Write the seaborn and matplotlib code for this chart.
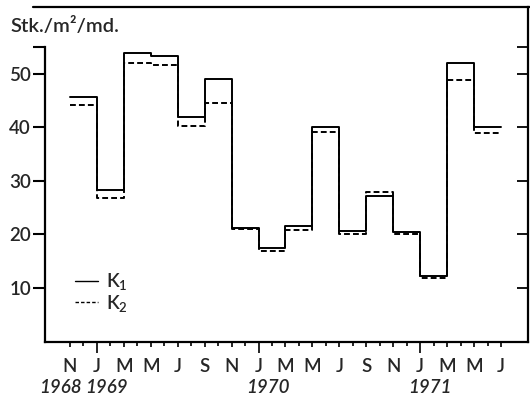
import matplotlib
matplotlib.use("Agg")
import matplotlib.pyplot as plt
import matplotlib.lines as mlines
import seaborn as sns
import pandas as pd
import numpy as np

# ---- data ----
# segment boundaries in months since Nov 1968 (2-month periods)
period_start = [0, 2, 4, 6, 8, 10, 12, 14, 16, 18, 20, 22, 24, 26, 28, 30]
period_end = 32
k1 = [45.6, 28.3, 53.9, 53.4, 42.0, 49.1, 21.2, 17.4, 21.5, 40.0, 20.7, 27.1, 20.5, 12.2, 52.0, 40.1]
k2 = [44.1, 26.8, 52.1, 51.7, 40.3, 44.5, 21.0, 17.0, 20.8, 39.1, 20.1, 28.0, 20.0, 11.8, 48.9, 38.9]
month_ticks = [0, 2, 4, 6, 8, 10, 12, 14, 16, 18, 20, 22, 24, 26, 28, 30, 32]
month_labels = ["N", "J", "M", "M", "J", "S", "N", "J", "M", "M", "J", "S", "N", "J", "M", "M", "J"]
jan_ticks = [2, 14, 26]
year_labels = ["1968", "1969", "1970", "1971"]
yticks = [10, 20, 30, 40, 50]

sns.set_theme(style="white")
plt.rcParams["font.family"] = ["Lato", "DejaVu Sans"]
plt.rcParams["font.weight"] = "semibold"
plt.rcParams["mathtext.fontset"] = "custom"
plt.rcParams["mathtext.rm"] = "Lato:semibold"
plt.rcParams["mathtext.it"] = "Lato:italic"
FS = 13.5

xs = period_start + [period_end]
rows = []
for name, vals in (("K1", k1), ("K2", k2)):
    v = vals + [vals[-1]]
    for x, y in zip(xs, v):
        rows.append({"month": x, "value": y, "series": name})
df = pd.DataFrame(rows)

fig = plt.figure(figsize=(5.3, 3.97), dpi=100)
ax = fig.add_axes([45 / 530, 1 - 341.5 / 397, (528 - 45) / 530, (341.5 - 7) / 397])

sns.lineplot(data=df, x="month", y="value", style="series",
             dashes={"K1": "", "K2": (3, 1.6)}, color="black",
             drawstyle="steps-post", linewidth=1.4, ax=ax, legend=False,
             estimator=None, sort=False)

ax.set_xlim(-1.85, 34.0)
ax.set_ylim(0, 62.5)
ax.set_xlabel("")
ax.set_ylabel("")

for s in ["left", "bottom", "right"]:
    ax.spines[s].set_color("black")
    ax.spines[s].set_linewidth(1.6)
ax.spines["top"].set_visible(False)
ax.spines["left"].set_bounds(0, 55)

# y ticks left (outward) and right (inward)
ax.set_yticks(yticks + [55])
ax.set_yticklabels([str(t) for t in yticks] + [""], fontsize=FS)
ax.tick_params(axis="y", which="major", direction="out", length=8.5, width=1.5,
               color="black", pad=1.5, left=True, right=False)
ax2 = ax.twinx()
ax2.set_ylim(ax.get_ylim())
ax2.set_yticks(yticks + [55])
ax2.set_yticklabels([])
ax2.tick_params(axis="y", direction="in", length=8, width=1.3, color="black")
for s in ax2.spines.values():
    s.set_visible(False)
ax2.grid(False)

# x ticks
ax.set_xticks(month_ticks)
ax.set_xticklabels(month_labels, fontsize=FS)
ax.set_xticks([m for m in range(0, 33) if m % 2 == 1], minor=True)
ax.tick_params(axis="x", which="major", direction="out", length=3.5, width=1.2,
               color="black", pad=8.5, bottom=True)
ax.tick_params(axis="x", which="minor", direction="out", length=3, width=1.2,
               color="black", bottom=True)
for t in ax.xaxis.get_major_ticks():
    if t.get_loc() in jan_ticks:
        t.tick1line.set_markersize(8)
ax.grid(False)

# year labels
tr = ax.get_xaxis_transform()
ax.text(0.9, -0.137, year_labels[0], transform=tr, ha="right", va="center",
        fontsize=FS, style="italic")
for yl, m in zip(year_labels[1:], jan_ticks):
    ax.text(m - 0.9, -0.137, yl, transform=tr, ha="left", va="center",
            fontsize=FS, style="italic")

# y unit label
fig.text(10 / 530, 1 - 26 / 397, "Stk./m²/md.", ha="left", va="center", fontsize=14.5)

# top rule
fig.add_artist(mlines.Line2D([33 / 530, 1.0], [1 - 7 / 397, 1 - 7 / 397],
                             color="black", linewidth=1.6))

# legend
handles = [mlines.Line2D([], [], color="black", linewidth=1.0),
           mlines.Line2D([], [], color="black", linewidth=1.0, dashes=(2.5, 1.5))]
leg = ax.legend(handles, ["K$_1$", "K$_2$"], loc="upper left",
                bbox_to_anchor=(22 / 483, 1 - (264 - 7) / 334.5), frameon=False,
                handlelength=1.25, handletextpad=0.45, labelspacing=0.0,
                fontsize=FS, borderaxespad=0)

fig.savefig("out.png", dpi=100)
